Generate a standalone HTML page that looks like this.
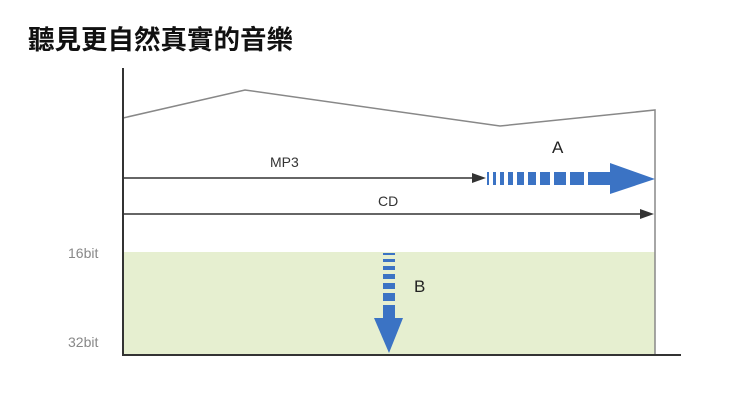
<!DOCTYPE html>
<html><head><meta charset="utf-8"><style>body{margin:0;background:#fff}svg{display:block}</style></head><body>
<svg width="750" height="420" xmlns="http://www.w3.org/2000/svg" font-family="Liberation Sans, sans-serif">
<text x="28" y="49" font-size="26.5" font-weight="bold" font-family="Liberation Sans, Noto Sans CJK TC, sans-serif" fill="#111">聽見更自然真實的音樂</text>
<rect x="123" y="252" width="532" height="102" fill="#e6efd0"/>
<polyline points="123,118 245,90 500,126 655,110 655,354" fill="none" stroke="#888" stroke-width="1.5"/>
<line x1="123" y1="68" x2="123" y2="355" stroke="#333" stroke-width="2"/>
<line x1="122" y1="355" x2="681" y2="355" stroke="#333" stroke-width="2"/>
<line x1="123" y1="178" x2="474" y2="178" stroke="#333" stroke-width="1.5"/>
<polygon points="486,178 472,173 472,183" fill="#333"/>
<line x1="123" y1="214" x2="642" y2="214" stroke="#333" stroke-width="1.5"/>
<polygon points="654,214 640,209 640,219" fill="#333"/>
<text x="270" y="167" font-size="14" fill="#333">MP3</text>
<text x="378" y="206" font-size="14" fill="#333">CD</text>
<text x="552" y="153" font-size="17" fill="#222">A</text>
<text x="414" y="292" font-size="17" fill="#222">B</text>
<text x="68" y="258" font-size="14" fill="#888">16bit</text>
<text x="68" y="347" font-size="14" fill="#888">32bit</text>
<g fill="#3b73c4">
<rect x="487" y="172" width="2" height="13"/><rect x="493" y="172" width="3" height="13"/><rect x="500" y="172" width="4" height="13"/><rect x="508" y="172" width="5" height="13"/><rect x="517" y="172" width="7" height="13"/><rect x="528" y="172" width="8" height="13"/><rect x="540" y="172" width="10" height="13"/><rect x="554" y="172" width="12" height="13"/><rect x="570" y="172" width="14" height="13"/><rect x="588" y="172" width="23" height="13"/>
<polygon points="610,163 655,179 610,194"/>
<rect x="383" y="253" width="12" height="2"/><rect x="383" y="259" width="12" height="3"/><rect x="383" y="266" width="12" height="4"/><rect x="383" y="274" width="12" height="5"/><rect x="383" y="283" width="12" height="6"/><rect x="383" y="293" width="12" height="8"/><rect x="383" y="305" width="12" height="14"/>
<polygon points="374,318 403,318 389,353"/>
</g>
</svg>
</body></html>
